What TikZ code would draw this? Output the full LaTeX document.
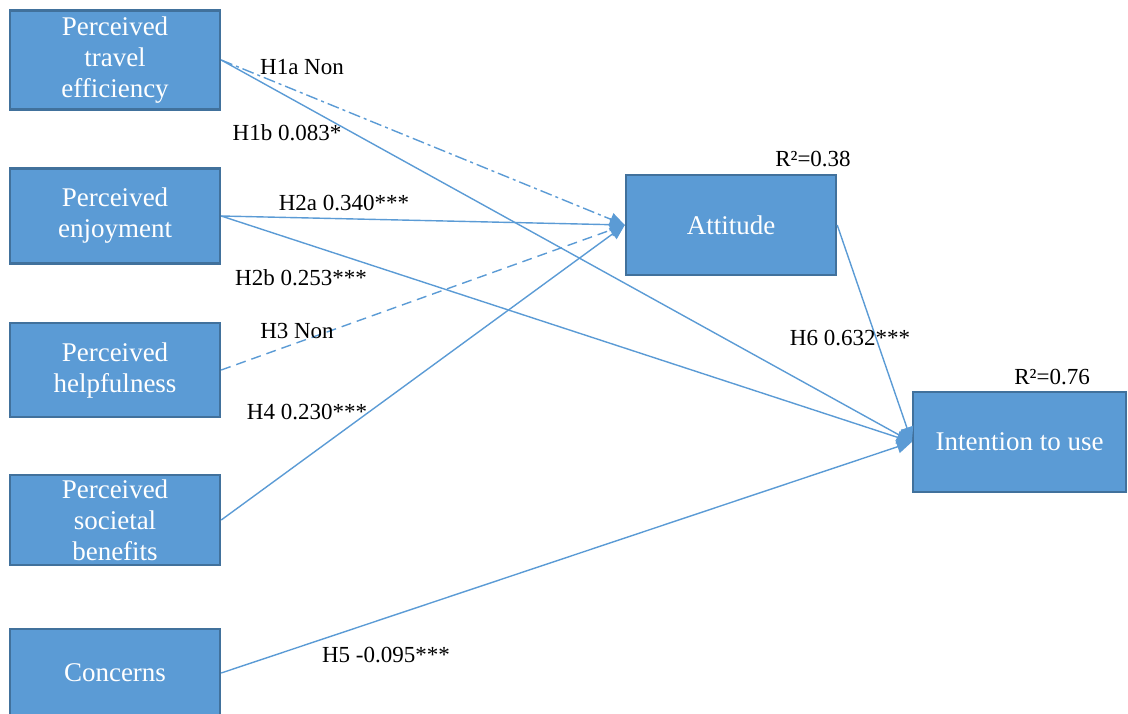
\documentclass[tikz,border=0pt]{standalone}
\usepackage{fontspec}
\setmainfont{Liberation Serif}
\usetikzlibrary{arrows.meta}
\definecolor{boxfill}{HTML}{5B9BD5}
\definecolor{boxline}{HTML}{41719C}
\definecolor{linkcol}{HTML}{5B9BD5}
\begin{document}
\begin{tikzpicture}[x=0.5pt,y=-0.5pt,
  construct/.style={draw=boxline,line width=1.2pt,fill=boxfill,text=white,
    align=center,inner sep=0pt,font=\fontsize{13.5}{15.5}\selectfont},
  link/.style={draw=linkcol,line width=0.7pt,-{Triangle[length=7.5pt,width=6.5pt]}},
  coef/.style={font=\fontsize{11.5}{13}\selectfont,inner sep=0pt,text=black}]
\useasboundingbox (0,0) rectangle (1128,713);

% constructs
\node[construct,minimum width=105pt,minimum height=49.5pt] (pte) at (115,60) {Perceived\\travel\\efficiency};
\node[construct,minimum width=105pt,minimum height=47.5pt] (pe) at (115,216) {Perceived\\enjoyment};
\node[construct,minimum width=105pt,minimum height=47pt] (ph) at (115,370) {Perceived\\helpfulness};
\node[construct,minimum width=105pt,minimum height=45pt] (psb) at (115,520) {Perceived\\societal\\benefits};
\node[construct,minimum width=105pt,minimum height=44pt] (con) at (115,673) {Concerns};
\node[construct,minimum width=105pt,minimum height=50pt] (att) at (731,225) {Attitude};
\node[construct,minimum width=106.5pt,minimum height=50pt] (itu) at (1019.5,442) {Intention to use};

% paths
\draw[link,dash pattern=on 6pt off 2pt on 1.5pt off 2pt] (pte.east) -- (att.west);
\draw[link] (pte.east) -- (itu.west);
\draw[link] (pe.east) -- (att.west);
\draw[link] (pe.east) -- (itu.west);
\draw[link,dash pattern=on 5pt off 3pt] (ph.east) -- (att.west);
\draw[link] (psb.east) -- (att.west);
\draw[link] (con.east) -- (itu.west);
\draw[link] (att.east) -- (itu.west);

% path coefficients
\node[coef] (l1a) at (302,67) {H1a Non};
\node[coef] (l1b) at (287,133) {H1b 0.083*};
\node[coef] (l2a) at (344,203) {H2a 0.340***};
\node[coef] (l2b) at (301,278) {H2b 0.253***};
\node[coef] (l3) at (297,331) {H3 Non};
\node[coef] (l4) at (307,412) {H4 0.230***};
\node[coef] (l5) at (386,655) {H5 -0.095***};
\node[coef] (l6) at (850,338) {H6 0.632***};
\node[coef] (r1) at (813,159) {R²=0.38};
\node[coef] (r2) at (1052,377) {R²=0.76};
\end{tikzpicture}
\end{document}
